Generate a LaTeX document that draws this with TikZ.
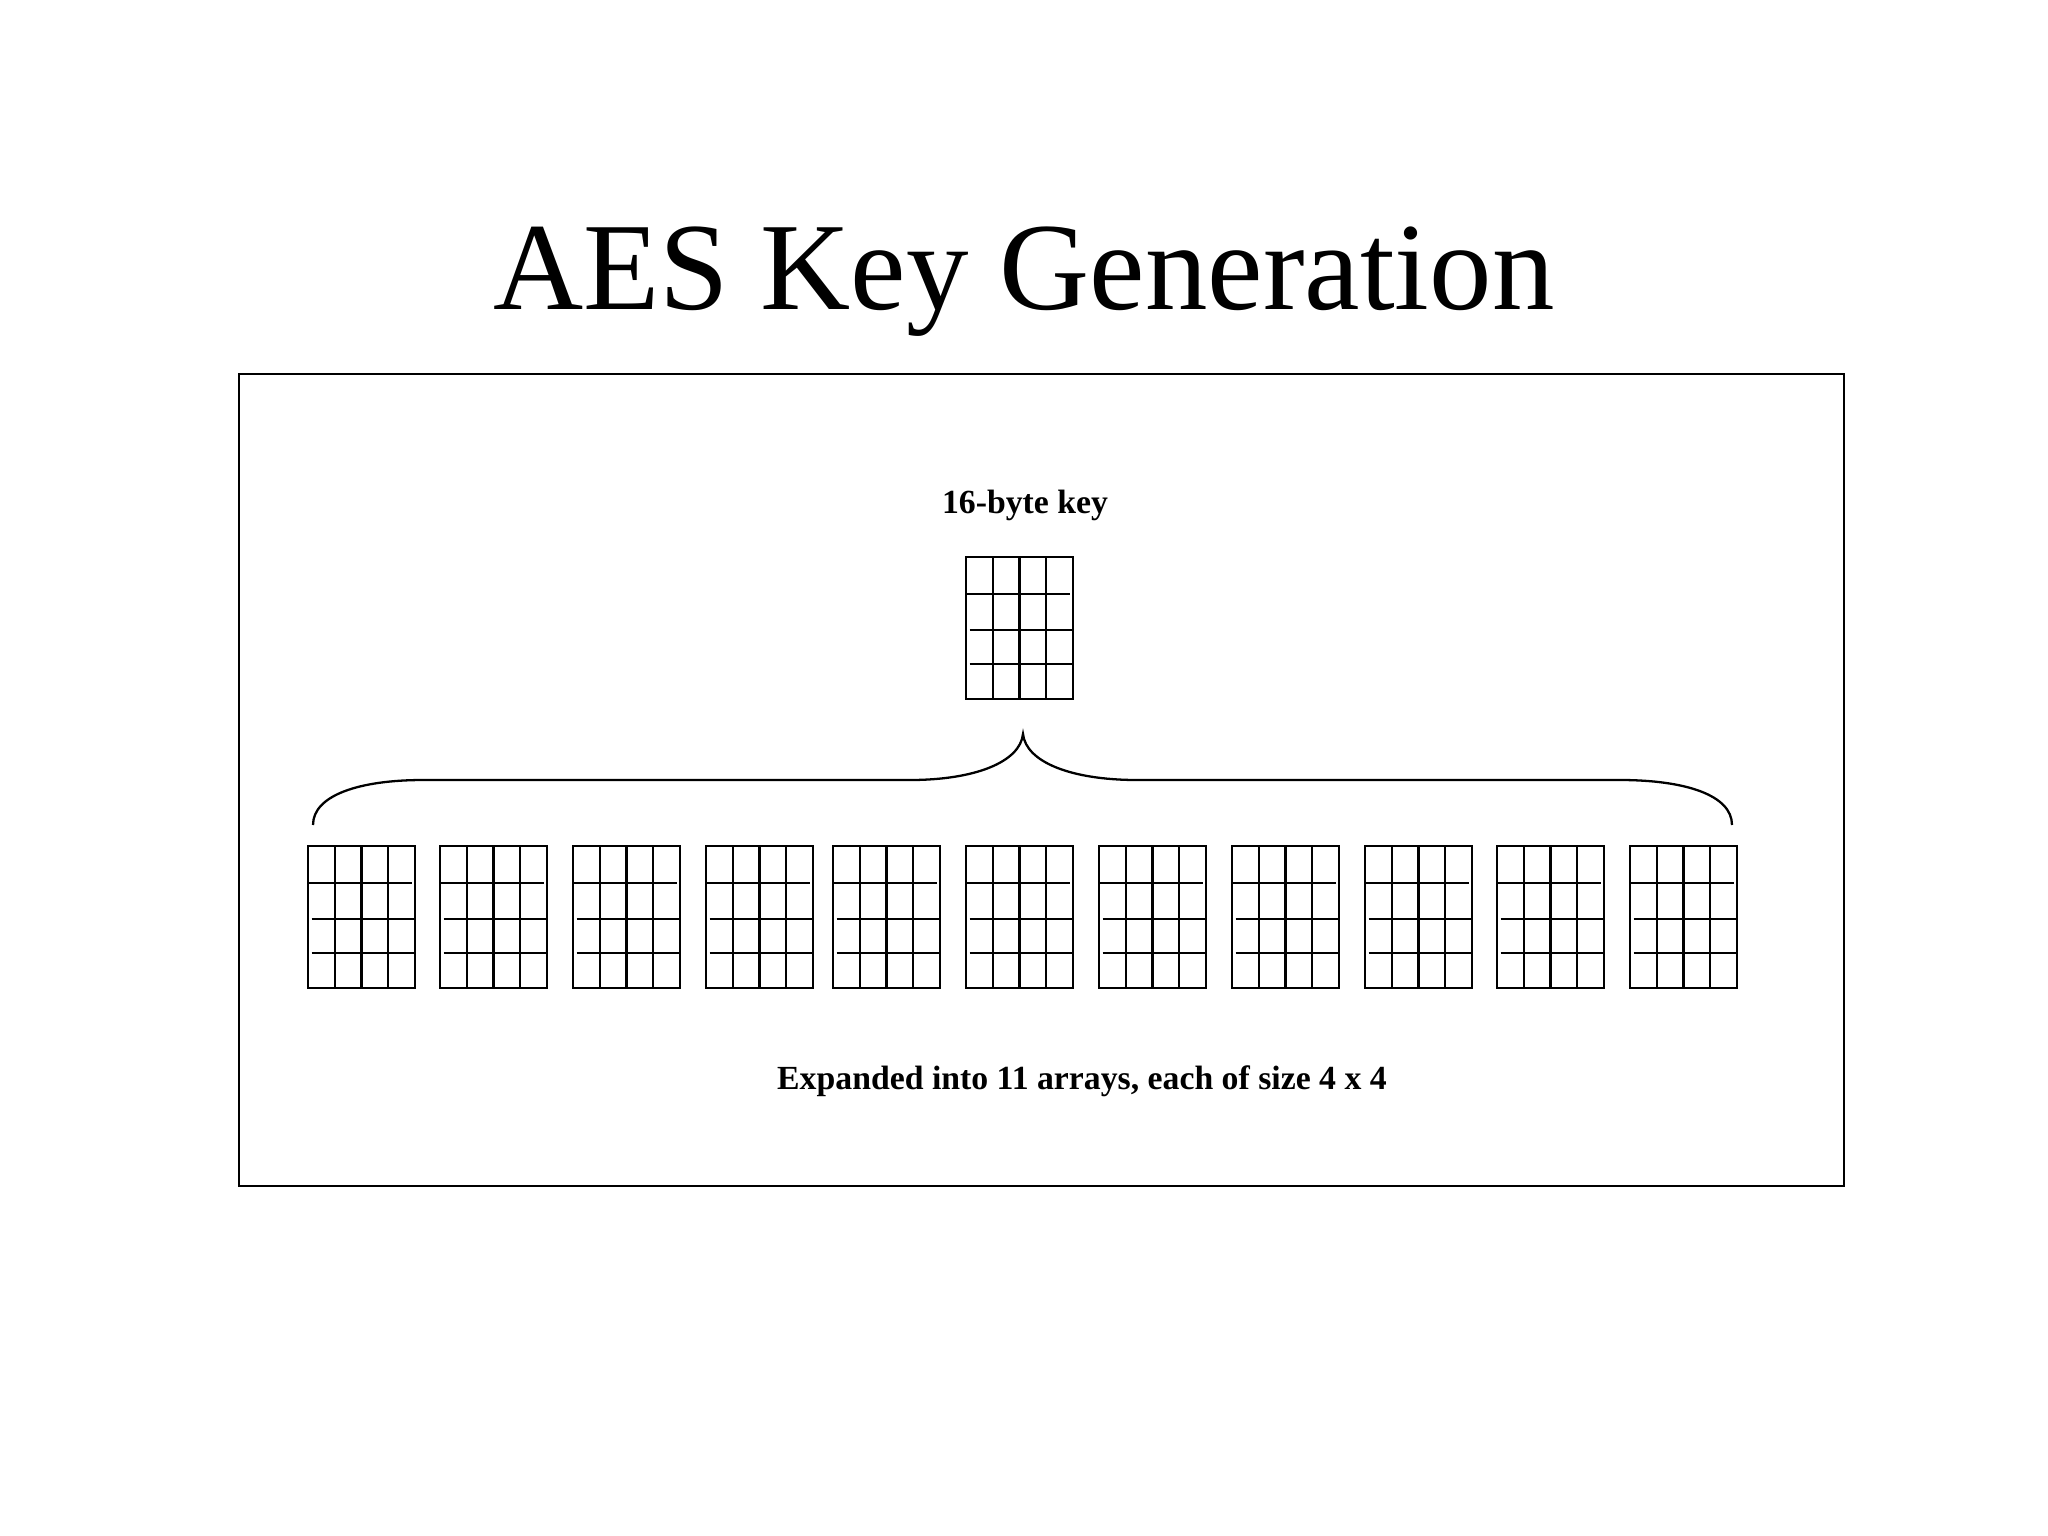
\documentclass[tikz,border=0pt]{standalone}
\usepackage{fontspec}
\setmainfont{Liberation Serif}
\usepackage{tikz}
\usetikzlibrary{positioning}

% one 4 x 4 array, top left corner at (#2,#3)
\newcommand{\KeyArray}[3]{%
	\node (#1) at (#2,#3) [Array] {};
	\draw [Line] (#2,#3+37) -- (#2+103.5,#3+37);
	\draw [Line] (#2+3.5,#3+73) -- (#2+107,#3+73);
	\draw [Line] (#2+3.5,#3+107) -- (#2+107,#3+107);
	\foreach \col in {27,53.5,80} \draw [Line] (#2+\col,#3) -- (#2+\col,#3+142);
}

\begin{document}
\begin{tikzpicture}[x=0.01cm, y=-0.01cm]
			\tikzstyle{Line}	= [line width=0.65pt, black]
			\tikzstyle{Array}	= [rectangle, draw, Line, anchor=north west, minimum width=1.07cm, minimum height=1.42cm, inner sep=0pt, outer sep=0pt]
			\tikzstyle{Label}	= [anchor=base, inner sep=0pt, font={\fontsize{9.6}{11}\selectfont\bfseries}]
			
			\useasboundingbox (0,0) rectangle (2048,1536);
			
			\node (title) at (1024,309) [anchor=base, inner sep=0pt] {\fontsize{35.5}{42}\selectfont AES Key Generation};
			\draw [Line] (239,374) rectangle (1844,1186);
			
			\node (keylabel) at (1025,513) [Label] {16-byte key};
			\KeyArray{key}{966}{557}
			
			% brace
			\draw [Line] (313,825) .. controls (313,795) and (360,780) .. (423,780) -- (910,780)
				.. controls (975,780) and (1020,762) .. (1023,734)
				.. controls (1026,762) and (1071,780) .. (1137,780) -- (1620,780)
				.. controls (1685,780) and (1732,795) .. (1732,825);
			
			\foreach \x [count=\i] in {308,440,573,706,833,966,1099,1232,1365,1497,1630}
				\KeyArray{a\i}{\x}{846};
			
			\node (explabel) at (1082,1089) [Label] {Expanded into 11 arrays, each of size 4 x 4};
		\end{tikzpicture}
\end{document}
